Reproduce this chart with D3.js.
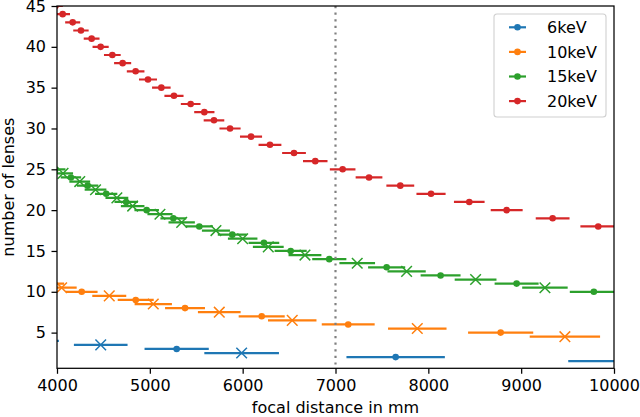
<!DOCTYPE html>
<html>
<head>
<meta charset="utf-8">
<script src="https://cdn.jsdelivr.net/npm/d3@7"></script>
<style>
  body { margin: 0; background: #fff; }
  text { font-family: "DejaVu Sans", sans-serif; }
</style>
</head>
<body>
<svg id="chart" width="640" height="417"></svg>
<script>
// energies, legend order
const energies = ["6keV", "10keV", "15keV", "20keV"];
const colors = ["#1f77b4", "#ff7f0e", "#2ca02c", "#d62728"];

// 6 keV
const lenses6 = [4, 3.5, 3, 2.5, 2, 1.5];
const focal6 = [3770, 4471, 5289, 5989, 7648, 10190];
const xerr6 = [250, 289, 346, 402, 530, 683];

// 10 keV
const lenses10 = [11, 10.5, 10, 9.5, 9, 8.5, 8, 7.5, 7, 6.5, 6, 5.5, 5, 4.5];
const focal10 = [3920, 4050, 4266, 4563, 4848, 5037, 5379, 5748, 6205, 6534, 7137, 7881, 8779, 9471];
const xerr10 = [157, 162, 171, 183, 194, 201, 215, 230, 248, 261, 285, 315, 351, 379];

// 15 keV
const lenses15 = [25, 24.5, 24, 23.5, 23, 22.5, 22, 21.5, 21, 20.5, 20, 19.5, 19, 18.5, 18, 17.5,
                  17, 16.5, 16, 15.5, 15, 14.5, 14, 13.5, 13, 12.5, 12, 11.5, 11, 10.5, 10];
const focal15 = [3985, 4065, 4150, 4245, 4330, 4415, 4530, 4645, 4745, 4815, 4966, 5109, 5253, 5343, 5533, 5712,
                 5888, 6000, 6229, 6276, 6517, 6671, 6933, 7234, 7551, 7766, 8132, 8509, 8951, 9256, 9783];
const xerr15 = [106, 108, 110, 112, 115, 117, 120, 123, 126, 127, 132, 135, 139, 142, 147, 151,
                156, 159, 165, 166, 173, 177, 184, 192, 200, 206, 215, 225, 237, 245, 259];

// 20 keV
const lenses20 = [45, 44, 43, 42, 41, 40, 39, 38, 37, 36, 35, 34, 33, 32, 31, 30, 29, 28, 27, 26,
                  25, 24, 23, 22, 21, 20, 19, 18];
const focal20 = [3985, 4061, 4169, 4258, 4373, 4470, 4596, 4707, 4847, 4980, 5124, 5260, 5440, 5587,
                 5691, 5864, 6090, 6294, 6553, 6782, 7077, 7361, 7698, 8029, 8441, 8844, 9339, 9830];
const xerr20 = [78, 79, 81, 83, 85, 87, 90, 92, 95, 97, 100, 103, 106, 109, 111, 114, 119, 123, 128, 132,
                138, 144, 150, 157, 165, 172, 182, 192];

const xTicks = [4000, 5000, 6000, 7000, 8000, 9000, 10000];
const yTicks = [5, 10, 15, 20, 25, 30, 35, 40, 45];
const markLine = 7000;

const lensSets = [lenses6, lenses10, lenses15, lenses20];
const focalSets = [focal6, focal10, focal15, focal20];
const errSets = [xerr6, xerr10, xerr15, xerr20];

const margin = { top: 6, right: 26, bottom: 48.7, left: 57 };
const W = 640, H = 417;
const w = W - margin.left - margin.right;
const h = H - margin.top - margin.bottom;

const svg = d3.select("#chart");
const g = svg.append("g").attr("transform", `translate(${margin.left},${margin.top})`);

const x = d3.scaleLinear().domain([4000, 10000]).range([0, w]);
const y = d3.scaleLinear().domain([0.63, 45]).range([h, 0]);

svg.append("defs").append("clipPath").attr("id", "plotclip")
    .append("rect").attr("width", w).attr("height", h);

const plot = g.append("g").attr("clip-path", "url(#plotclip)");

const crossPath = (s) => `M${-s},${-s}L${s},${s}M${-s},${s}L${s},${-s}`;

energies.forEach((name, i) => {
    let pts = lensSets[i].map((n, j) => ({ n: n, f: focalSets[i][j], e: errSets[i][j] }));
    let grp = plot.append("g");

    grp.selectAll("line")
        .data(pts)
        .enter().append("line")
        .attr("x1", d => x(d.f - d.e))
        .attr("x2", d => x(d.f + d.e))
        .attr("y1", d => y(d.n))
        .attr("y2", d => y(d.n))
        .attr("stroke", colors[i])
        .attr("stroke-width", 2.2);

    grp.selectAll("circle")
        .data(pts.filter(d => Number.isInteger(d.n)))
        .enter().append("circle")
        .attr("cx", d => x(d.f))
        .attr("cy", d => y(d.n))
        .attr("r", 3.3)
        .attr("fill", colors[i]);

    grp.selectAll("path")
        .data(pts.filter(d => !Number.isInteger(d.n)))
        .enter().append("path")
        .attr("transform", d => `translate(${x(d.f)},${y(d.n)})`)
        .attr("d", crossPath(5.3))
        .attr("stroke", colors[i])
        .attr("stroke-width", 1.5)
        .attr("fill", "none");
});

// dotted reference line
plot.append("line")
    .attr("x1", x(markLine)).attr("x2", x(markLine))
    .attr("y1", 0).attr("y2", h)
    .attr("stroke", "#808080")
    .attr("stroke-width", 2.2)
    .attr("stroke-dasharray", "2.2,4.4");

// axes
let xAxis = g.append("g")
    .attr("transform", `translate(0,${h})`)
    .call(d3.axisBottom(x).tickValues(xTicks).tickFormat(d3.format("d")).tickSize(5.5).tickPadding(5.5).tickSizeOuter(0));
let yAxis = g.append("g")
    .call(d3.axisLeft(y).tickValues(yTicks).tickFormat(d3.format("d")).tickSize(5.5).tickPadding(5.5).tickSizeOuter(0));

[xAxis, yAxis].forEach(ax => {
    ax.select(".domain").remove();
    ax.selectAll("line").attr("stroke", "#000").attr("stroke-width", 1.25);
    ax.selectAll("text").attr("font-size", "16px").attr("fill", "#000")
        .attr("font-family", "DejaVu Sans");
});

g.append("rect")
    .attr("width", w).attr("height", h)
    .attr("fill", "none")
    .attr("stroke", "#000")
    .attr("stroke-width", 1.25);

svg.append("text")
    .attr("x", margin.left + w / 2)
    .attr("y", 413)
    .attr("text-anchor", "middle")
    .attr("font-size", "16px")
    .text("focal distance in mm");

svg.append("text")
    .attr("transform", `translate(8.5,${margin.top + h / 2}) rotate(-90)`)
    .attr("text-anchor", "middle")
    .attr("dominant-baseline", "central")
    .attr("font-size", "16px")
    .text("number of lenses");

// legend
let legend = svg.append("g").attr("transform", "translate(494,14)");
legend.append("rect")
    .attr("width", 112).attr("height", 103)
    .attr("rx", 3)
    .attr("fill", "#fff").attr("fill-opacity", 0.8)
    .attr("stroke", "#d0d0d0").attr("stroke-width", 1.1);

let item = legend.selectAll("g.item")
    .data(energies)
    .enter().append("g")
    .attr("class", "item")
    .attr("transform", (d, i) => `translate(0,${13.3 + i * 24.6})`);

item.append("line")
    .attr("x1", 15).attr("x2", 32)
    .attr("stroke", (d, i) => colors[i])
    .attr("stroke-width", 2.2);
item.append("circle")
    .attr("cx", 23.5).attr("r", 3.3)
    .attr("fill", (d, i) => colors[i]);
item.append("text")
    .attr("x", 53)
    .attr("dy", "0.36em")
    .attr("font-size", "16px")
    .text(d => d);
</script>
</body>
</html>
